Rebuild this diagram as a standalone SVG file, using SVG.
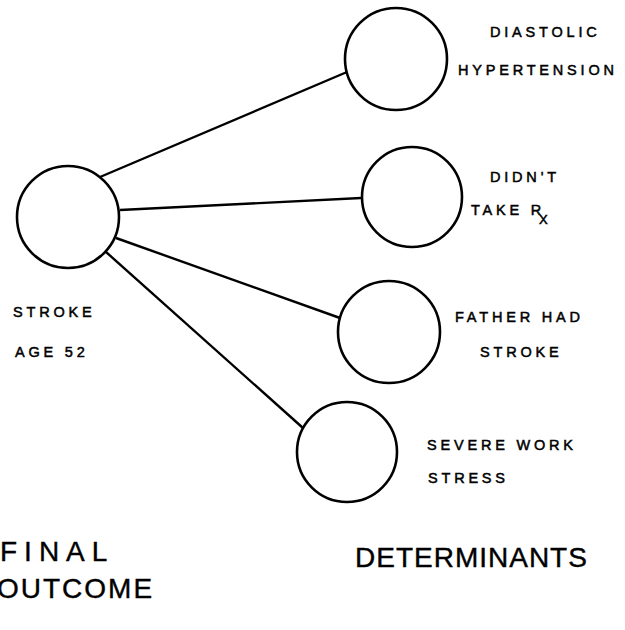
<svg xmlns="http://www.w3.org/2000/svg" width="625" height="630" viewBox="0 0 625 630">
<style>
.node{fill:none;stroke:#000;stroke-width:2.6}
.edge{stroke:#000;stroke-width:2.4;fill:none}
.lbl{font-family:"Liberation Sans",Arial,sans-serif;font-size:14.5px;letter-spacing:3.8px;fill:#000;stroke:#000;stroke-width:0.5}
.big{font-family:"Liberation Sans",Arial,sans-serif;font-size:28px;fill:#000;stroke:#000;stroke-width:0.4}
</style>
<rect width="625" height="630" fill="#fff"/>
<g id="connectors">
<line class="edge" x1="100" y1="177" x2="347" y2="72"/>
<line class="edge" x1="120" y1="210" x2="361" y2="198"/>
<line class="edge" x1="116" y1="238" x2="340" y2="318"/>
<line class="edge" x1="106" y1="252" x2="303" y2="428"/>
</g>
<g id="outcome">
<circle class="node" cx="68" cy="217" r="51"/>
<text class="lbl" x="13" y="317">STROKE</text>
<text class="lbl" x="15" y="357">AGE 52</text>
</g>
<g id="diastolic">
<circle class="node" cx="396" cy="59" r="51"/>
<text class="lbl" x="490" y="37">DIASTOLIC</text>
<text class="lbl" x="458" y="75">HYPERTENSION</text>
</g>
<g id="didnt">
<circle class="node" cx="412" cy="197" r="50"/>
<text class="lbl" x="490" y="182">DIDN'T</text>
<text class="lbl" x="471" y="215">TAKE R<tspan font-size="13" dx="-6" dy="9">X</tspan></text>
</g>
<g id="father">
<circle class="node" cx="389" cy="332" r="51"/>
<text class="lbl" x="455" y="322">FATHER HAD</text>
<text class="lbl" x="480" y="357">STROKE</text>
</g>
<g id="stress">
<circle class="node" cx="347" cy="452" r="50"/>
<text class="lbl" x="427" y="450">SEVERE WORK</text>
<text class="lbl" x="428" y="483">STRESS</text>
</g>
<g id="titles">
<text class="big" x="0" y="561" letter-spacing="7">FINAL</text>
<text class="big" x="-3" y="598" letter-spacing="2">OUTCOME</text>
<text class="big" x="355" y="567" letter-spacing="1">DETERMINANTS</text>
</g>
</svg>
